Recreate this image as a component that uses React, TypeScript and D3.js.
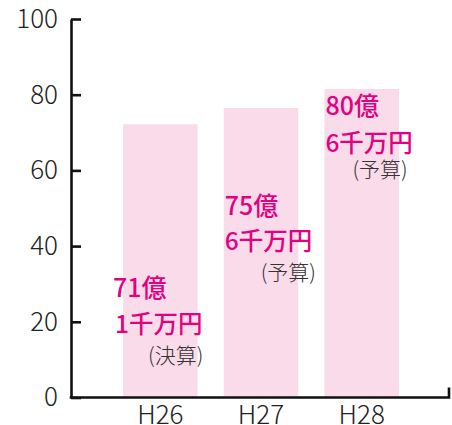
import * as d3 from 'd3';
import React, { useEffect, useRef } from "react";

// 年度ごとの予算・決算額 (億円)
const years = ['H26', 'H27', 'H28'];
const amounts = [72.2, 76.5, 81.5];
const labelLine1 = ['71億', '75億', '80億'];
const labelLine2 = ['1千万円', '6千万円', '6千万円'];
const labelNotes = ['(決算)', '(予算)', '(予算)'];
const yTicks = [0, 20, 40, 60, 80, 100];

// label placement, relative to each bar's left edge
const labelLayout = [
    { base: 297, dx1: -10, dx2: -8, dxNote: 25, gap2: 36, gapNote: 30 },
    { base: 215, dx1: 1, dx2: 1, dxNote: 37, gap2: 35, gapNote: 30 },
    { base: 115, dx1: 1, dx2: 1, dxNote: 28, gap2: 37, gapNote: 25 },
];

const width = 452;
const height = 425;
const FONT = '"Noto Sans CJK JP", "Noto Sans", sans-serif';

const BudgetChart: React.FC = () => {
    const ref = useRef<SVGSVGElement>(null);

    useEffect(() => {
        if (!ref.current) return;
        const svg = d3.select(ref.current);
        svg.selectAll('*').remove();

        const axisX = 71;
        const axisEnd = 449;

        const y = d3.scaleLinear().domain([0, 100]).range([397.5, 19]);
        const x = d3.scaleBand<string>()
            .domain(years)
            .range([110, 412])
            .paddingInner(0.26)
            .paddingOuter(0.13);

        // bars
        svg.append('g')
            .selectAll('rect')
            .data(years)
            .enter()
            .append('rect')
            .attr('x', d => x(d)!)
            .attr('y', (d, i) => y(amounts[i]))
            .attr('width', x.bandwidth())
            .attr('height', (d, i) => y(0) - y(amounts[i]))
            .attr('fill', '#f9dbe9');

        // y axis, ticks pointing inward
        const yAxis = d3.axisLeft(y)
            .tickValues(yTicks)
            .tickSizeInner(-10)
            .tickSizeOuter(0)
            .tickPadding(13);

        const gy = svg.append('g')
            .attr('transform', `translate(${axisX},0)`)
            .call(yAxis);
        gy.select('.domain').attr('stroke', '#111').attr('stroke-width', 2.6);
        gy.selectAll('.tick line').attr('stroke', '#111').attr('stroke-width', 2.6);
        gy.selectAll('.tick text')
            .attr('font-family', FONT)
            .attr('font-size', 26)
            .attr('font-weight', 300)
            .attr('fill', '#222');

        // x axis
        const xAxis = d3.axisBottom(x).tickSize(0).tickPadding(8);
        const gx = svg.append('g')
            .attr('transform', `translate(0,${y(0)})`)
            .call(xAxis);
        gx.select('.domain').remove();
        gx.selectAll('.tick text')
            .attr('font-family', FONT)
            .attr('font-size', 26)
            .attr('font-weight', 300)
            .attr('fill', '#222');

        const p = d3.path();
        p.moveTo(axisX - 1.3, y(0));
        p.lineTo(axisEnd, y(0));
        p.lineTo(axisEnd, y(0) - 10);
        svg.append('path')
            .attr('d', p.toString())
            .attr('fill', 'none')
            .attr('stroke', '#111')
            .attr('stroke-width', 2.6);

        // amount labels
        const labels = svg.append('g')
            .selectAll('g')
            .data(years)
            .enter()
            .append('g');

        labels.append('text')
            .attr('x', (d, i) => x(d)! + labelLayout[i].dx1)
            .attr('y', (d, i) => labelLayout[i].base)
            .attr('font-family', FONT)
            .attr('font-size', 25)
            .attr('font-weight', 500)
            .attr('fill', '#e4007f')
            .text((d, i) => labelLine1[i]);

        labels.append('text')
            .attr('x', (d, i) => x(d)! + labelLayout[i].dx2)
            .attr('y', (d, i) => labelLayout[i].base + labelLayout[i].gap2)
            .attr('font-family', FONT)
            .attr('font-size', 24.5)
            .attr('font-weight', 500)
            .attr('fill', '#e4007f')
            .text((d, i) => labelLine2[i]);

        labels.append('text')
            .attr('x', (d, i) => x(d)! + labelLayout[i].dxNote)
            .attr('y', (d, i) => labelLayout[i].base + labelLayout[i].gap2 + labelLayout[i].gapNote)
            .attr('font-family', FONT)
            .attr('font-size', 21)
            .attr('font-weight', 300)
            .attr('fill', '#333')
            .text((d, i) => labelNotes[i]);
    }, []);

    return (
        <svg
            ref={ref}
            width={width}
            height={height}
            style={{ position: 'absolute', left: 0, top: 0, background: '#fff' }}
        ></svg>
    );
};

export default function App() {
    return <BudgetChart />;
}
